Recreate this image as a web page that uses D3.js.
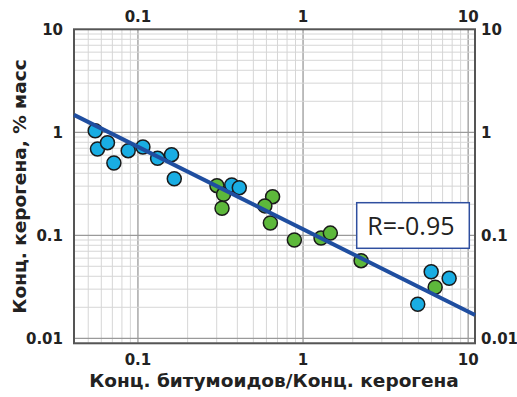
<!DOCTYPE html>
<html>
<head>
<meta charset="utf-8">
<script src="https://cdn.jsdelivr.net/npm/d3@7/dist/d3.min.js"></script>
<style>
  html, body { margin: 0; padding: 0; background: #fff; }
  svg { display: block; }
</style>
</head>
<body>
<svg id="chart" width="517" height="397"></svg>
<script>
// Ratio of bitumoid to kerogen concentration vs kerogen concentration (log-log)
const blueX = [0.0551, 0.0569, 0.0654, 0.0715, 0.0873, 0.1072, 0.1315, 0.1598, 0.166, 0.370, 0.411, 5.97, 7.67, 4.95];
const blueY = [1.036, 0.689, 0.793, 0.503, 0.663, 0.720, 0.559, 0.606, 0.354, 0.308, 0.290, 0.0443, 0.0382, 0.0214];

const greenX = [0.301, 0.330, 0.323, 0.654, 0.587, 0.634, 0.886, 1.285, 1.463, 2.246, 6.31];
const greenY = [0.303, 0.250, 0.183, 0.237, 0.193, 0.1316, 0.090, 0.094, 0.105, 0.0567, 0.0313];

// Power-law trend: y = fitCoef * x^fitSlope
const fitCoef = 0.1146;
const fitSlope = -0.8;
const corrLabel = "R=-0.95";

const xTickLabels = [0.1, 1, 10];
const yTickLabels = [0.01, 0.1, 1, 10];
const xTitle = "Конц. битумоидов/Конц. керогена";
const yTitle = "Конц. керогена, % масс";

const svg = d3.select("#chart");
const plotL = 74, plotR = 475, plotT = 29.3, plotB = 343.3;

const x = d3.scaleLog().domain([0.041, 11]).range([plotL, plotR]);
const y = d3.scaleLog().domain([0.00894, 10]).range([plotB, plotT]);

// grid values: 1..9 × each decade, inside the domain
function logGrid(scale) {
  const [a, b] = scale.domain();
  const out = [];
  for (let e = -3; e <= 2; e++) {
    for (let k = 1; k <= 9; k++) {
      const v = k * Math.pow(10, e);
      if (v >= a * 1.0001 && v <= b * 0.9999) out.push({ v, major: k === 1 });
    }
  }
  return out;
}

const grid = svg.append("g");
grid.selectAll("line.gx").data(logGrid(x)).join("line")
  .attr("x1", d => x(d.v)).attr("x2", d => x(d.v))
  .attr("y1", plotT).attr("y2", plotB)
  .attr("stroke", d => d.major ? "#9a9a9a" : "#d6d6d6")
  .attr("stroke-width", d => d.major ? 1.3 : 1);
grid.selectAll("line.gy").data(logGrid(y)).join("line")
  .attr("y1", d => y(d.v)).attr("y2", d => y(d.v))
  .attr("x1", plotL).attr("x2", plotR)
  .attr("stroke", d => d.major ? "#9a9a9a" : "#d6d6d6")
  .attr("stroke-width", d => d.major ? 1.3 : 1);

// frame
svg.append("rect")
  .attr("x", plotL).attr("y", plotT)
  .attr("width", plotR - plotL).attr("height", plotB - plotT)
  .attr("fill", "none").attr("stroke", "#555").attr("stroke-width", 2);

// points
const pts = svg.append("g");
const greenPts = greenX.map((v, i) => [v, greenY[i]]);
const bluePts = blueX.map((v, i) => [v, blueY[i]]);
pts.selectAll("circle.g").data(greenPts).join("circle")
  .attr("cx", d => x(d[0])).attr("cy", d => y(d[1])).attr("r", 7)
  .attr("fill", "#5db83b").attr("stroke", "#1a1a1a").attr("stroke-width", 1.5);
pts.selectAll("circle.b").data(bluePts).join("circle")
  .attr("cx", d => x(d[0])).attr("cy", d => y(d[1])).attr("r", 7)
  .attr("fill", "#19ade3").attr("stroke", "#1a1a1a").attr("stroke-width", 1.5);

// trend line
const [x0, x1] = x.domain();
const fitLine = [x0, x1].map(v => [v, fitCoef * Math.pow(v, fitSlope)]);
svg.append("path")
  .attr("d", d3.line().x(d => x(d[0])).y(d => y(d[1]))(fitLine))
  .attr("fill", "none").attr("stroke", "#1f4ea0").attr("stroke-width", 4);

// tick labels
const tickFont = "'DejaVu Sans', sans-serif";
const lab = svg.append("g")
  .attr("font-family", tickFont).attr("font-weight", "bold")
  .attr("font-size", 15).attr("fill", "#222");
const fmt = v => String(v);
lab.selectAll("text.xt").data(xTickLabels).join("text")
  .attr("x", d => x(d)).attr("y", 22).attr("text-anchor", "middle").text(fmt);
lab.selectAll("text.xb").data(xTickLabels).join("text")
  .attr("x", d => x(d)).attr("y", 364.5).attr("text-anchor", "middle").text(fmt);
lab.selectAll("text.yl").data(yTickLabels).join("text")
  .attr("x", 63).attr("y", d => y(d) + 6).attr("text-anchor", "end").text(fmt);
lab.selectAll("text.yr").data(yTickLabels).join("text")
  .attr("x", 481).attr("y", d => y(d) + 6).attr("text-anchor", "start").text(fmt);

// axis titles
svg.append("text")
  .attr("x", 274).attr("y", 386.5).attr("text-anchor", "middle")
  .attr("font-family", tickFont).attr("font-weight", "bold")
  .attr("font-size", 18.5).attr("fill", "#222").text(xTitle);
svg.append("text")
  .attr("transform", "translate(25.5,186.5) rotate(-90)")
  .attr("text-anchor", "middle")
  .attr("font-family", tickFont).attr("font-weight", "bold")
  .attr("font-size", 18.5).attr("fill", "#222").text(yTitle);

// correlation box
svg.append("rect")
  .attr("x", 356.7).attr("y", 202.7).attr("width", 112.6).attr("height", 45.6)
  .attr("fill", "#fff").attr("stroke", "#2f4f9f").attr("stroke-width", 1.5);
svg.append("text")
  .attr("x", 367.3).attr("y", 235)
  .attr("font-family", "'Open Sans', sans-serif").attr("font-size", 25)
  .attr("fill", "#222").text(corrLabel);
</script>
</body>
</html>
